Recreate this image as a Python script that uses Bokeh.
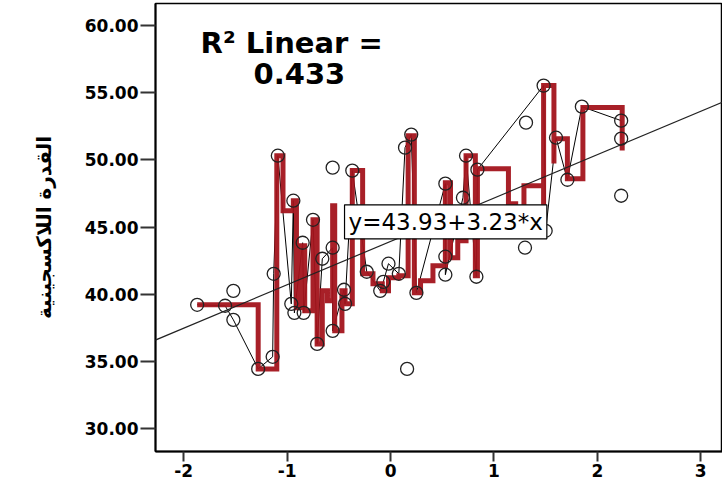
import numpy as np
from bokeh.plotting import figure
from bokeh.models import FixedTicker, Label, Slope, Range1d
from bokeh.embed import file_html
from bokeh.resources import INLINE

# ---- data ----
# points joined by the thin black interpolation line
path_x = [-1.87, -1.60, -1.52, -1.28, -1.14, -1.13, -1.09, -0.96, -0.94,
          -0.93, -0.85, -0.84, -0.75, -0.71, -0.66, -0.56, -0.56, -0.45,
          -0.44, -0.37, -0.23, -0.10, -0.07, -0.02, 0.08, 0.14, 0.20,
          0.25, 0.53, 0.53, 0.53, 0.70, 0.73, 0.83, 0.84,
          1.48, 1.50, 1.60, 1.71, 1.85, 2.23, 2.23]
path_y = [39.21, 39.14, 38.09, 34.44, 35.34, 41.52, 50.31, 39.28, 46.96,
          38.61, 43.83, 38.61, 45.54, 36.30, 42.64, 43.46, 37.27, 40.33,
          39.28, 49.20, 41.67, 40.25, 40.92, 42.27, 41.52, 50.91, 51.88,
          40.10, 48.23, 42.79, 41.45, 47.18, 50.31, 41.30, 49.27,
          55.53, 44.72, 51.65, 48.52, 53.96, 52.92, 51.58]
# circles not joined by the black line
extra_x = [-1.52, -0.56, 0.16, 1.30, 1.31, 2.23]
extra_y = [40.25, 49.42, 34.44, 43.46, 52.77, 47.33]

# red step line knots
step_x = [-1.87, -1.28, -1.10, -1.04, -0.94, -0.91, -0.87, -0.83, -0.75, -0.71,
          -0.66, -0.61, -0.56, -0.54, -0.47, -0.44, -0.37, -0.27, -0.17, -0.08,
          -0.02, 0.08, 0.17, 0.23, 0.29, 0.41, 0.53, 0.58, 0.65, 0.73,
          0.82, 0.84, 1.14, 1.21, 1.29, 1.48, 1.48, 1.58, 1.58, 1.71,
          1.86, 2.24]
step_y = [39.21, 34.44, 50.31, 46.21, 46.96, 38.99, 43.61, 38.76, 45.54, 36.30,
          40.25, 39.51, 46.59, 37.27, 40.25, 39.28, 49.20, 41.52, 40.77, 40.25,
          41.22, 41.37, 51.80, 40.10, 41.00, 42.12, 48.30, 42.71, 43.98, 50.31,
          41.37, 49.34, 46.74, 44.72, 48.08, 44.50, 55.53, 49.72, 51.58, 48.60,
          53.89, 50.69]

intercept = 43.93
slope = 3.23
r_squared = 0.433

x_ticks = [-2, -1, 0, 1, 2, 3]
x_tick_labels = ["-2", "-1", "0", "1", "2", "3"]
y_ticks = [30, 35, 40, 45, 50, 55, 60]
y_label = "القدرة اللاكسجينية"

# ---- figure ----
p = figure(width=722, height=485, output_backend="svg", toolbar_location=None,
           x_range=Range1d(-2.273, 3.21), y_range=Range1d(28.29, 61.64))
p.min_border_left = 155
p.min_border_right = 0
p.min_border_top = 3
p.min_border_bottom = 34
p.background_fill_color = "white"
p.border_fill_color = "white"
p.outline_line_color = "black"
p.outline_line_width = 1.5
p.grid.visible = False

# regression line
p.add_layout(Slope(gradient=slope, y_intercept=intercept,
                   line_color="#222222", line_width=1.2))

# black interpolation line through sorted points
order = np.argsort(np.array(path_x), kind="stable")
sx = np.array(path_x)[order]
sy = np.array(path_y)[order]
p.line(sx, sy, line_color="black", line_width=1)

# red step line
p.step(step_x, step_y, mode="after", line_color="#A3141C", line_width=5,
       line_join="miter", line_alpha=0.95)

# points
all_x = path_x + extra_x
all_y = path_y + extra_y
p.scatter(all_x, all_y, marker="circle", size=13, fill_color=None,
          line_color="#222222", line_width=1.3)

# annotations
font = "DejaVu Sans"
p.add_layout(Label(x=-1.837, y=58.73, text="R\u00b2  Linear =",
                   text_font=font, text_font_style="bold", text_font_size="29px",
                   text_color="black", text_baseline="alphabetic", text_align="left"))
p.add_layout(Label(x=-1.325, y=56.42, text=f"{r_squared:.3f}",
                   text_font=font, text_font_style="bold", text_font_size="29px",
                   text_color="black", text_baseline="alphabetic", text_align="left"))
p.add_layout(Label(x=-0.445, y=45.39, text=f"y={intercept:.2f}+{slope:.2f}*x",
                   text_font=font, text_font_size="23px", text_color="black",
                   text_baseline="middle", text_align="left",
                   background_fill_color="white", border_line_color="black",
                   border_line_width=1.2, padding=4))

# axes
p.xaxis.ticker = FixedTicker(ticks=x_ticks)
p.xaxis.major_label_overrides = {t: l for t, l in zip(x_ticks, x_tick_labels)}
p.yaxis.ticker = FixedTicker(ticks=y_ticks)
p.yaxis.major_label_overrides = {t: f"{t:.2f}" for t in y_ticks}
for ax in (p.xaxis[0], p.yaxis[0]):
    ax.axis_line_color = "black"
    ax.axis_line_width = 2
    ax.major_tick_line_color = "#333333"
    ax.major_tick_line_width = 2
    ax.minor_tick_line_color = None
    ax.major_tick_in = 0
    ax.major_label_text_font = font
    ax.major_label_text_font_style = "bold"
    ax.major_label_text_font_size = "17px"
    ax.major_label_text_color = "black"
p.yaxis.major_tick_out = 15
p.yaxis.major_label_standoff = 2
p.xaxis.major_tick_out = 10
p.xaxis.major_label_standoff = 2
p.yaxis.axis_label = y_label
p.yaxis.axis_label_text_font = font
p.yaxis.axis_label_text_font_style = "bold"
p.yaxis.axis_label_text_font_size = "20px"
p.yaxis.axis_label_text_color = "black"
p.yaxis.axis_label_standoff = 26

open("out.html", "w").write(file_html(p, INLINE))
